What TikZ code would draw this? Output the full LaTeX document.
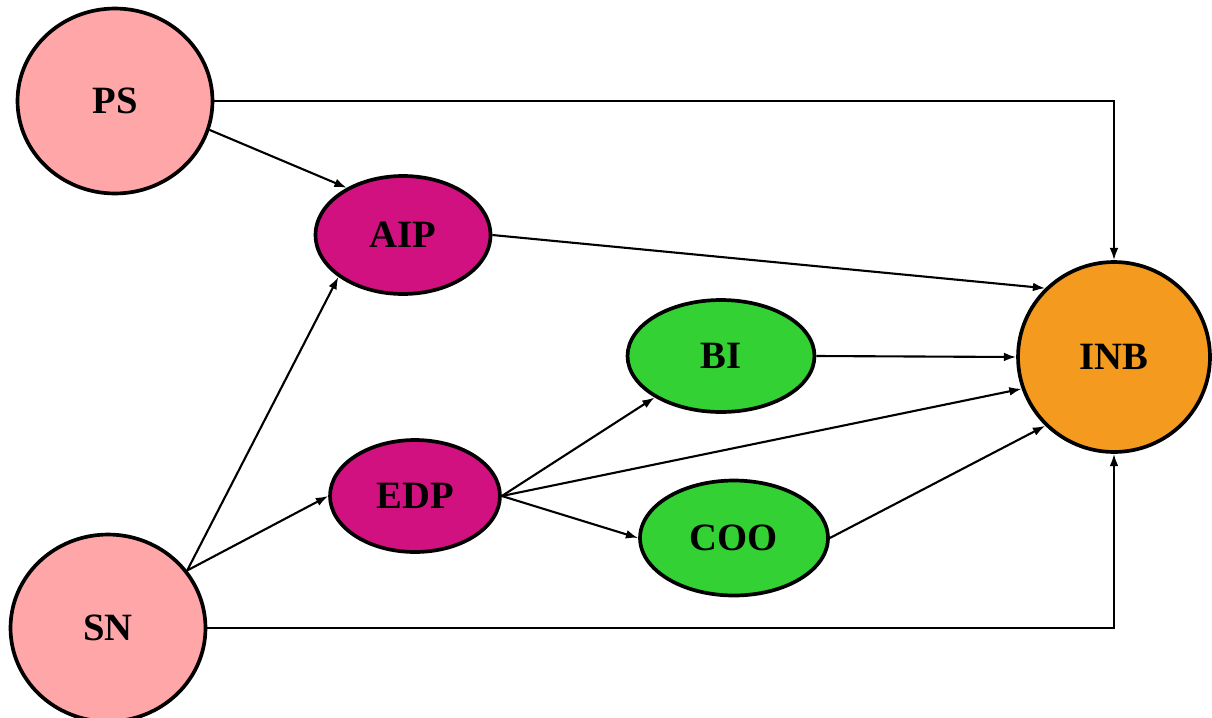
\documentclass[tikz,border=0pt]{standalone}
\usepackage{fontspec}
\setmainfont{Liberation Serif}
\usetikzlibrary{calc,shapes,arrows.meta}

\definecolor{pscol}{HTML}{FFA6A9}
\definecolor{medcol}{HTML}{D1117F}
\definecolor{grncol}{HTML}{33D133}
\definecolor{inbcol}{HTML}{F39A1F}

\tikzset{
  var/.style={draw, ellipse, line width=2.1pt, inner sep=0pt,
    font=\fontsize{22}{26}\selectfont\bfseries},
  link/.style={line width=1.2pt, -{Latex[length=7pt,width=5pt]}},
}

\begin{document}
\begin{tikzpicture}[x=0.02cm,y=-0.02cm]
  \useasboundingbox (0,0) rectangle (1212,717);
  % exogenous
  \node [var, fill=pscol, minimum width=3.9cm, minimum height=3.7cm] (ps) at (115,101) {PS};
  \node [var, fill=pscol, minimum width=3.9cm, minimum height=3.74cm] (sn) at (108,628) {SN};
  % mediators
  \node [var, fill=medcol, minimum width=3.5cm, minimum height=2.36cm] (aip) at (403,235) {AIP};
  \node [var, fill=medcol, minimum width=3.4cm, minimum height=2.24cm] (edp) at (415,496) {EDP};
  \node [var, fill=grncol, minimum width=3.74cm, minimum height=2.24cm] (bi) at (721,356) {BI};
  \node [var, fill=grncol, minimum width=3.76cm, minimum height=2.3cm] (coo) at (734,538) {COO};
  % outcome
  \node [var, fill=inbcol, minimum width=3.84cm, minimum height=3.8cm] (inb) at (1114,357) {INB};

  \draw[link] (ps.east) -| (inb.north);
  \draw[link] (sn.east) -| (inb.south);
  \draw[link] (ps.-17) -- (aip.140);
  \draw[link] (sn.36) -- (aip.-147);
  \draw[link] (sn.36) -- (edp.west);
  \draw[link] (aip.east) -- (inb.135);
  \draw[link] (edp.east) -- (bi.-148);
  \draw[link] (edp.east) -- (inb.-161);
  \draw[link] (edp.east) -- (coo.west);
  \draw[link] (bi.east) -- (inb.west);
  \draw[link] (coo.east) -- (inb.-135);
\end{tikzpicture}
\end{document}
